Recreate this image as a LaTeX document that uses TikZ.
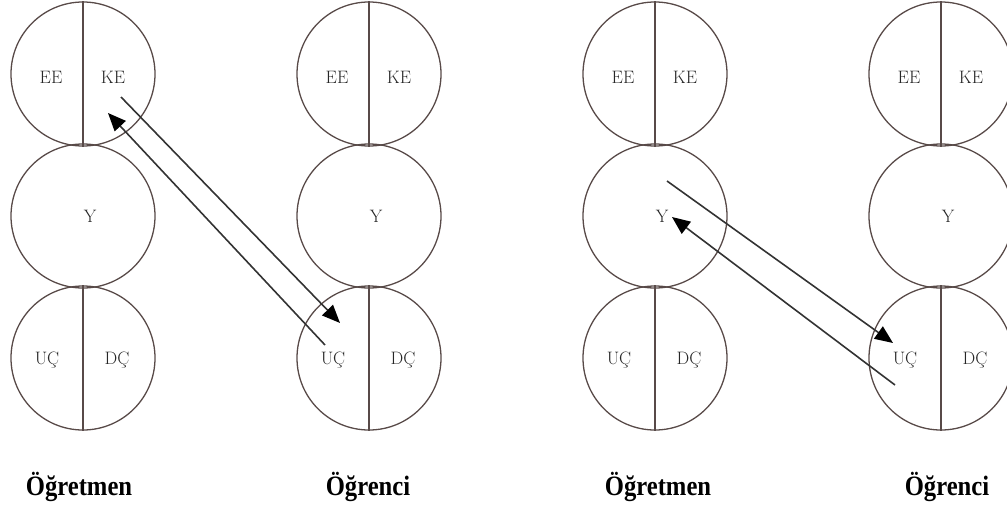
\documentclass[tikz,border=0pt]{standalone}
\usepackage{fontspec}
\newfontfamily\capfont{Liberation Serif}
\usetikzlibrary{arrows.meta,positioning}
\definecolor{ringcol}{RGB}{88,74,72}

\begin{document}
\begin{tikzpicture}[x=1pt,y=-1pt,>={Triangle[length=18pt,width=15pt,black]},
  ring/.style={draw=ringcol,line width=1.3pt,circle,minimum size=144pt,inner sep=0pt},
  split/.style={draw=ringcol,line width=1.3pt},
  lab/.style={text=black!85,font=\fontsize{18}{21}\selectfont},
  who/.style={font=\capfont\bfseries\fontsize{28}{32}\selectfont,anchor=base,xscale=0.88},
  flow/.style={->,line width=1.6pt,black!80}]
  \useasboundingbox (0,0) rectangle (1007,506);
  % four columns of three rings
  \foreach \c/\x in {a/83,b/369,c/655,d/941}{
    \node[ring] (top\c) at (\x,74) {};
    \node[ring] (mid\c) at (\x,216) {};
    \node[ring] (bot\c) at (\x,358) {};
    \draw[split] (top\c.north) -- (top\c.south);
    \draw[split] (bot\c.north) -- (bot\c.south);
    \node[lab] (ee\c) at (\x-32,77) {EE};
    \node[lab] (ke\c) at (\x+30,77) {KE};
    \node[lab] (y\c) at (\x+7,216) {Y};
    \node[lab] (uc\c) at (\x-36,360) {UÇ};
    \node[lab] (dc\c) at (\x+34,360) {DÇ};
  }
  % names under the columns
  \node[who] (oa) at (79,495) {Öğretmen};
  \node[who] (ob) at (368,495) {Öğrenci};
  \node[who] (oc) at (658,495) {Öğretmen};
  \node[who] (od) at (947,495) {Öğrenci};
  % left pair: KE <-> UC
  \coordinate (s1) at (121,97);
  \coordinate (e1) at (340,323);
  \coordinate (s2) at (325,345);
  \coordinate (e2) at (108,113);
  \draw[flow] (s1) -- (e1);
  \draw[flow] (s2) -- (e2);
  % right pair: Y <-> UC
  \coordinate (s3) at (667,181);
  \coordinate (e3) at (893,343);
  \coordinate (s4) at (895,385);
  \coordinate (e4) at (672,217);
  \draw[flow] (s3) -- (e3);
  \draw[flow] (s4) -- (e4);
\end{tikzpicture}
\end{document}
